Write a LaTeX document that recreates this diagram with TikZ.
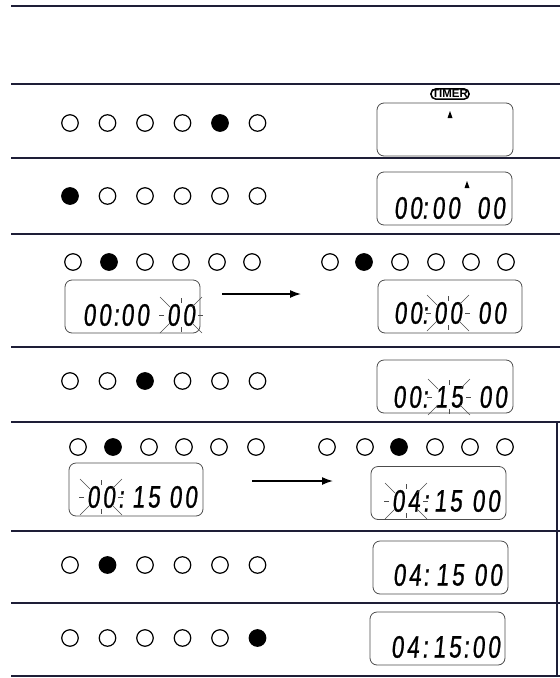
\documentclass[tikz,border=0pt]{standalone}
\usepackage{fontspec}
\usetikzlibrary{arrows.meta}
\newfontfamily\lcdfont[FakeSlant=0.1,FakeStretch=0.72,FakeBold=0.8,LetterSpace=10]{Liberation Sans}
\newfontfamily\tagfont{Liberation Sans}
\definecolor{ink}{RGB}{30,30,55}

\begin{document}
\begin{tikzpicture}[x=1pt, y=-1pt,
    rule/.style={draw=ink, line width=1.8pt},
    ledoff/.style={circle, draw, line width=1.2pt, minimum size=16.5pt, inner sep=0pt},
    ledon/.style={ledoff, fill=black},
    screen/.style={draw=black!70, line width=0.8pt, rounded corners=7pt, minimum height=53pt, inner sep=0pt},
    digits/.style={inner sep=0pt, font=\lcdfont\fontsize{31}{31}\selectfont},
    dots/.style={digits, execute at begin node=\vphantom{0}},
    tag/.style={draw, line width=1.5pt, rounded corners=5pt, inner sep=1.2pt, font=\tagfont\fontsize{11.5}{11.5}\selectfont\bfseries},
    ray/.style={black!70, line width=0.6pt},
    arr/.style={line width=1.5pt, -{Latex[length=11pt,width=8pt]}},
    blink/.pic={
      \foreach \sx/\sy in {1/1,1/-1,-1/1,-1/-1}
        \draw[ray] ({21*\sx},{18*\sy}) -- ({11*\sx},{8*\sy});
      \draw[ray] (0,12) -- (0,17) (0,-12) -- (0,-17) (-17,0) -- (-22,0) (17,0) -- (22,0);
    }]
  \useasboundingbox (0,0) rectangle (560,678);

  % Trennlinien
  \foreach \y in {6,84,158,234,347,422,531,603,676}
    \draw[rule] (11,\y) -- (560,\y);
  \draw[rule] (557,422) -- (557,676); % Rand rechts

  % Zeile 1: TIMER
  \foreach \i/\st in {1/ledoff,2/ledoff,3/ledoff,4/ledoff,5/ledon,6/ledoff}
    \node[\st] (a\i) at ({32.5+37.5*\i},123) {};
  \node[screen, minimum width=136pt] (d1) at (445,129.5) {};
  \node[tag] (t1) at (450,94) {TIMER};
  \fill (450,111) -- (452.5,118) -- (447.5,118) -- cycle; % Zeiger

  % Zeile 2
  \foreach \i/\st in {1/ledon,2/ledoff,3/ledoff,4/ledoff,5/ledoff,6/ledoff}
    \node[\st] (b\i) at ({32.5+37.5*\i},196) {};
  \node[screen, minimum width=135pt] (d2) at (444.5,198.5) {};
  \fill (467,181) -- (469.5,188) -- (464.5,188) -- cycle; % Zeiger
  \node[digits] (d2h) at (408,208) {00};
  \node[dots] (d2c) at (425,208) {:};
  \node[digits] (d2m) at (446,208) {00};
  \node[digits] (d2s) at (491,208) {00};

  % Zeile 3: Sekunden, dann Minuten
  \foreach \x/\st [count=\i] in {73/ledoff,109/ledon,145/ledoff,181/ledoff,217/ledoff,252/ledoff}
    \node[\st] (c\i) at (\x,262) {};
  \foreach \x/\st [count=\i] in {330/ledoff,364/ledon,400/ledoff,436/ledoff,471/ledoff,506/ledoff}
    \node[\st] (cc\i) at (\x,262) {};
  \node[screen, minimum width=135pt] (d3a) at (132.5,306.5) {};
  \node[digits] (d3ah) at (97,315) {00};
  \node[dots] (d3ac) at (116,315) {:};
  \node[digits] (d3am) at (135,315) {00};
  \node[digits] (d3as) at (181,315) {00};
  \pic at (d3as) {blink};
  \node[screen, minimum width=144pt] (d3b) at (450,306.5) {};
  \node[digits] (d3bh) at (408,313) {00};
  \node[dots] (d3bc) at (425,313) {:};
  \node[digits] (d3bm) at (448,313) {00};
  \node[digits] (d3bs) at (492,313) {00};
  \pic at (d3bm) {blink};
  \coordinate (p3a) at (222,294);
  \coordinate (p3b) at (301,294);
  \draw[arr] (p3a) -- (p3b);

  % Zeile 4
  \foreach \i/\st in {1/ledoff,2/ledoff,3/ledon,4/ledoff,5/ledoff,6/ledoff}
    \node[\st] (e\i) at ({32.5+37.5*\i},381) {};
  \node[screen, minimum width=136pt] (d4) at (445,386.5) {};
  \node[digits] (d4h) at (407,397) {00};
  \node[dots] (d4c) at (425,397) {:};
  \node[digits] (d4m) at (449,397) {15};
  \node[digits] (d4s) at (493,397) {00};
  \pic at (d4m) {blink};

  % Zeile 5: Stunden
  \foreach \x/\st [count=\i] in {78/ledoff,113/ledon,149/ledoff,184/ledoff,219/ledoff,256/ledoff}
    \node[\st] (f\i) at (\x,447) {};
  \foreach \x/\st [count=\i] in {327/ledoff,365/ledoff,399/ledon,435/ledoff,470/ledoff,505/ledoff}
    \node[\st] (ff\i) at (\x,447) {};
  \node[screen, minimum width=134pt] (d5a) at (136,489.5) {};
  \node[digits] (d5ah) at (101,497) {00};
  \node[dots] (d5ac) at (121,497) {:};
  \node[digits] (d5am) at (146,497) {15};
  \node[digits] (d5as) at (183,497) {00};
  \pic at (d5ah) {blink};
  \node[screen, minimum width=135pt] (d5b) at (438.5,493) {};
  \node[digits] (d5bh) at (406,501) {04};
  \node[dots] (d5bc) at (426,501) {:};
  \node[digits] (d5bm) at (448,501) {15};
  \node[digits] (d5bs) at (486,501) {00};
  \pic at (d5bh) {blink};
  \coordinate (p5a) at (252,481);
  \coordinate (p5b) at (333,481);
  \draw[arr] (p5a) -- (p5b);

  % Zeile 6
  \foreach \i/\st in {1/ledoff,2/ledon,3/ledoff,4/ledoff,5/ledoff,6/ledoff}
    \node[\st] (g\i) at ({32.5+37.5*\i},565) {};
  \node[screen, minimum width=135pt] (d6) at (440.5,567.5) {};
  \node[digits] (d6h) at (407,575) {04};
  \node[dots] (d6c) at (426,575) {:};
  \node[digits] (d6m) at (450,575) {15};
  \node[digits] (d6s) at (488,575) {00};

  % Zeile 7
  \foreach \i/\st in {1/ledoff,2/ledoff,3/ledoff,4/ledoff,5/ledoff,6/ledon}
    \node[\st] (h\i) at ({32.5+37.5*\i},638) {};
  \node[screen, minimum width=135pt] (d7) at (437.5,638.5) {};
  \node[digits] (d7h) at (405,647) {04};
  \node[dots] (d7c) at (425,647) {:};
  \node[digits] (d7m) at (447,647) {15};
  \node[dots] (d7cc) at (466,647) {:};
  \node[digits] (d7s) at (486,647) {00};
\end{tikzpicture}
\end{document}
